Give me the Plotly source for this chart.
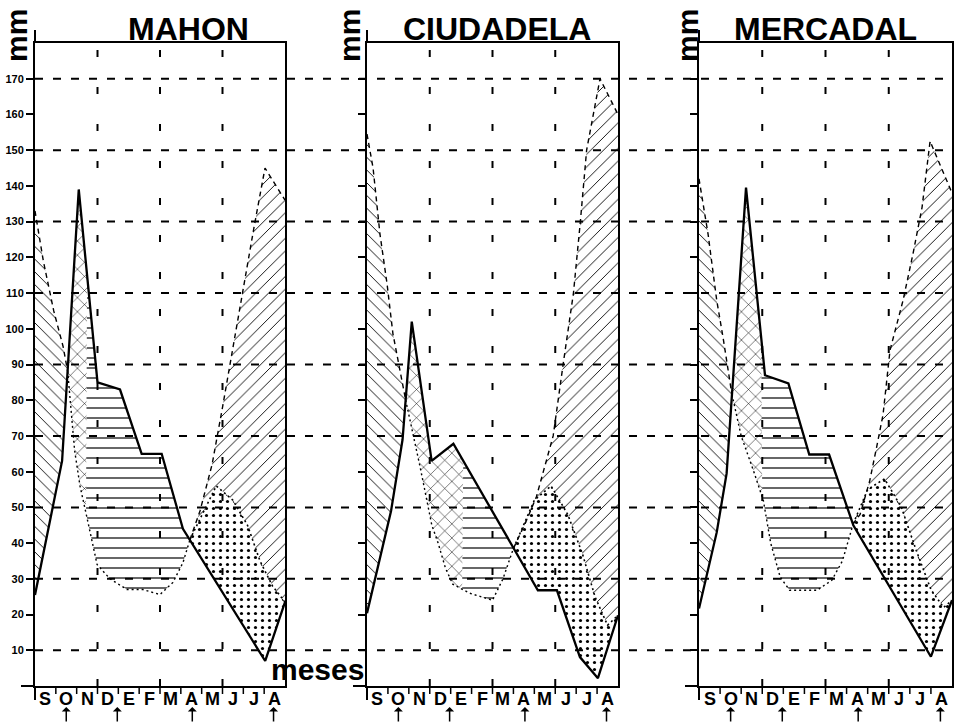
import numpy as np
import plotly.graph_objects as go

W, H = 956, 724

# ---------------- data ----------------
months = ["S", "O", "N", "D", "E", "F", "M", "A", "M", "J", "J", "A"]
month_pos = [i + 0.5 for i in range(12)]
yticks = list(range(10, 180, 10))
grid_h = [10, 30, 50, 70, 90, 110, 130, 150, 170]
grid_v = [3, 6, 9]
arrow_u = [1.5, 3.95, 7.55, 11.45]
titles = ["MAHON", "CIUDADELA", "MERCADAL"]

# MAHON
mahon_p_u = [0, 1.3, 2.1, 3.0, 4.08, 5.12, 6.08, 7.1, 11.05, 12]
mahon_p_v = [25.5, 63, 139, 85, 83, 65, 65, 44, 7, 23.5]
mahon_etp_u = [0, 0.4, 0.9, 1.35, 1.57, 1.9, 2.16, 2.5, 2.98, 3.6, 4.42, 5.18, 6.0, 6.62, 7.1,
               7.44, 7.92, 8.5, 9.0, 9.5, 10.0, 10.5, 11.04, 12]
mahon_etp_v = [133, 119, 105, 95, 88, 66, 56, 47, 34, 30, 27, 27, 25.6, 29, 34.5,
               41, 49, 62, 78, 95, 111, 128, 145, 136]
mahon_etr_u = [7.44, 8.2, 8.7, 9.5, 10.2, 10.8, 11.4, 12]
mahon_etr_v = [41, 50, 56, 52, 45, 35, 28, 23.5]
mahon_full = (2.5, 2.45)

# CIUDADELA
ciud_p_u = [0, 0.3, 1.15, 1.7, 2.14, 3.09, 4.13, 8.17, 9.08, 10.18, 11.04, 12]
ciud_p_v = [20.4, 27.7, 49, 69, 102, 63, 67.8, 26.8, 26.8, 8.1, 2.2, 19.8]
ciud_etp_u = [0, 0.29, 0.62, 0.96, 1.24, 1.85, 2.55, 2.85, 3.1, 3.4, 3.75, 4.1, 4.9, 6.0, 6.5,
              7.0, 7.6, 8.1, 8.9, 9.4, 9.87, 10.2, 10.5, 11.14, 12]
ciud_etp_v = [154.5, 145, 126.5, 112.5, 98.6, 80, 61, 52, 45, 40, 33, 28.5, 26, 24, 30,
              38.5, 46, 53, 70, 91, 110, 130, 150, 170, 160]
ciud_etr_u = [7.0, 8.0, 8.8, 9.6, 10.3, 10.9, 11.5, 12]
ciud_etr_v = [38.5, 52, 56, 48, 37, 25, 17, 19.8]
ciud_full = (4.6, 4.55)

# MERCADAL
merc_p_u = [0, 0.84, 1.31, 2.23, 3.13, 4.24, 5.23, 6.17, 7.32, 11.0, 12]
merc_p_v = [21.7, 43, 59.5, 139.5, 87, 84.7, 64.8, 64.8, 45, 8.2, 24]
merc_etp_u = [0, 0.43, 0.84, 1.14, 1.55, 2.0, 2.6, 3.05, 3.4, 3.85, 4.3, 5.6, 6.3, 6.8,
              7.32, 7.64, 8.1, 8.43, 8.73, 9.06, 9.68, 10.15, 10.58, 10.96, 12]
merc_etp_v = [142, 126.5, 108, 97.6, 82, 70, 60, 52, 40, 30.5, 26.8, 26.8, 29.6, 35,
              45.5, 48, 57.5, 67, 76, 94, 108, 121, 134, 152.5, 138]
merc_etr_u = [7.32, 8.0, 8.8, 9.6, 10.3, 11.0, 11.6, 12]
merc_etr_v = [45.5, 55, 58, 50, 38, 27, 22, 24]
merc_full = (2.95, 3.0)

stations = [
    (mahon_p_u, mahon_p_v, mahon_etp_u, mahon_etp_v, mahon_etr_u, mahon_etr_v, mahon_full),
    (ciud_p_u, ciud_p_v, ciud_etp_u, ciud_etp_v, ciud_etr_u, ciud_etr_v, ciud_full),
    (merc_p_u, merc_p_v, merc_etp_u, merc_etp_v, merc_etr_u, merc_etr_v, merc_full),
]

# ---------------- layout geometry (pixels) ----------------
panel_px = [(35, 285), (367, 618), (699, 952)]
y0_px, ytop_px = 686, 43
YMAX = 180


def px_x(p):
    return p / W


def px_y(p):
    return (H - p) / H


# ---------------- helpers ----------------
def crossings(pu, pv, eu, ev):
    grid = np.union1d(pu, eu)
    d = np.interp(grid, pu, pv) - np.interp(grid, eu, ev)
    roots = []
    for i in range(len(grid) - 1):
        if d[i] * d[i + 1] < 0:
            roots.append(grid[i] + (grid[i + 1] - grid[i]) * d[i] / (d[i] - d[i + 1]))
    return roots


def seg(us, vs, a, b):
    pts = [(a, float(np.interp(a, us, vs)))]
    pts += [(u, v) for u, v in zip(us, vs) if a < u < b]
    pts.append((b, float(np.interp(b, us, vs))))
    return pts


def poly(top, bottom):
    pts = top + bottom[::-1]
    pts.append(pts[0])
    return [p[0] for p in pts], [p[1] for p in pts]


fig = go.Figure()

FONT = "Liberation Sans"


def pat(shape, size, sol):
    return dict(shape=shape, fgcolor="black", bgcolor="rgba(0,0,0,0)",
                size=size, solidity=sol, fillmode="replace")


for i, (pu, pv, eu, ev, ru, rv, full) in enumerate(stations):
    xa = "x" if i == 0 else f"x{i+1}"
    ya = "y" if i == 0 else f"y{i+1}"
    cr = crossings(pu, pv, eu, ev)
    c1, c2 = cr[0], cr[-1]
    ft, fb = full
    regions = [
        (poly(seg(eu, ev, 0, c1), seg(pu, pv, 0, c1)), pat("\\", 9, 0.1)),
        (poly(seg(pu, pv, c1, ft), seg(eu, ev, c1, fb)), pat("x", 10, 0.1)),
        (poly(seg(pu, pv, ft, c2), seg(eu, ev, fb, c2)), pat("-", 10, 0.12)),
        (poly(seg(ru, rv, c2, 12), seg(pu, pv, c2, 12)), pat(".", 7, 0.16)),
        (poly(seg(eu, ev, c2, 12), seg(ru, rv, c2, 12)), pat("/", 9, 0.1)),
    ]
    for (xs, ys), fp in regions:
        fig.add_trace(go.Scatter(x=xs, y=ys, xaxis=xa, yaxis=ya, mode="lines",
                                 line=dict(width=0, color="rgba(0,0,0,0)"),
                                 fill="toself", fillcolor="rgba(0,0,0,0)",
                                 fillpattern=fp, hoverinfo="skip", showlegend=False))
    # ETP: dashed where above P, dotted in winter
    for a, b, dash in [(0, c1, "5px,4px"), (c1, c2, "2px,3px"), (c2, 12, "5px,4px")]:
        s = seg(eu, ev, a, b)
        fig.add_trace(go.Scatter(x=[p[0] for p in s], y=[p[1] for p in s], xaxis=xa, yaxis=ya,
                                 mode="lines", line=dict(color="black", width=1.4, dash=dash),
                                 hoverinfo="skip", showlegend=False))
    s = seg(ru, rv, c2, 12)
    fig.add_trace(go.Scatter(x=[p[0] for p in s], y=[p[1] for p in s], xaxis=xa, yaxis=ya,
                             mode="lines", line=dict(color="black", width=1.6, dash="2px,3px"),
                             hoverinfo="skip", showlegend=False))
    fig.add_trace(go.Scatter(x=pu, y=pv, xaxis=xa, yaxis=ya, mode="lines",
                             line=dict(color="black", width=2.3),
                             hoverinfo="skip", showlegend=False))

# ---------------- axes ----------------
layout = dict(width=W, height=H, margin=dict(l=0, r=0, t=0, b=0),
              paper_bgcolor="white", plot_bgcolor="rgba(0,0,0,0)", showlegend=False)
for i, (xl, xr) in enumerate(panel_px):
    kx = "xaxis" if i == 0 else f"xaxis{i+1}"
    ky = "yaxis" if i == 0 else f"yaxis{i+1}"
    ya = "y" if i == 0 else f"y{i+1}"
    xa = "x" if i == 0 else f"x{i+1}"
    layout[kx] = dict(domain=[px_x(xl), px_x(xr)], range=[0, 12], anchor=ya,
                      showline=True, linecolor="black", linewidth=2, mirror=True,
                      showgrid=False, zeroline=False, fixedrange=True,
                      showticklabels=False, ticks="")
    layout[ky] = dict(domain=[px_y(y0_px), px_y(ytop_px)], range=[0, YMAX], anchor=xa,
                      showline=True, linecolor="black", linewidth=2, mirror=True,
                      showgrid=False, zeroline=False, fixedrange=True,
                      tickmode="array", tickvals=yticks, ticks="outside", ticklen=7,
                      tickwidth=2, tickcolor="black", showticklabels=(i == 0),
                      tickfont=dict(family=FONT, size=11, color="black", weight="bold"))
fig.update_layout(**layout)

# ---------------- shapes ----------------
shapes = []
for g in grid_h:
    shapes.append(dict(type="line", xref="paper", yref="y", x0=px_x(35), x1=px_x(950), y0=g, y1=g,
                       line=dict(color="black", width=2, dash="8px,10px"), layer="below"))
for i, (xl, xr) in enumerate(panel_px):
    xa = "x" if i == 0 else f"x{i+1}"
    ya = "y" if i == 0 else f"y{i+1}"
    for gv in grid_v:
        shapes.append(dict(type="line", xref=xa, yref=ya, x0=gv, x1=gv, y0=0, y1=YMAX,
                           line=dict(color="black", width=2, dash="7px,30px"), layer="below"))
    # axis overhangs
    shapes.append(dict(type="line", xref="paper", yref="paper", x0=px_x(xl), x1=px_x(xl),
                       y0=px_y(ytop_px), y1=px_y(30), line=dict(color="black", width=2)))
    shapes.append(dict(type="line", xref="paper", yref="paper", x0=px_x(xl), x1=px_x(xl),
                       y0=px_y(y0_px), y1=px_y(700), line=dict(color="black", width=2)))
    shapes.append(dict(type="line", xref="paper", yref="paper", x0=px_x(xl - 14), x1=px_x(xl),
                       y0=px_y(y0_px), y1=px_y(y0_px), line=dict(color="black", width=2)))
    # month separators (apostrophes)
    for m in range(1, 12):
        shapes.append(dict(type="line", xref=xa, yref="paper", x0=m, x1=m,
                           y0=px_y(688), y1=px_y(694), line=dict(color="black", width=1.5)))
fig.update_layout(shapes=shapes)

# ---------------- annotations ----------------
ann = []
title_cx = [188, 497, 825]
mm_cx = [17, 350, 688]
for i in range(3):
    xa = "x" if i == 0 else f"x{i+1}"
    ann.append(dict(text=titles[i], xref="paper", yref="paper", x=px_x(title_cx[i]),
                    y=px_y(49), xanchor="center", yanchor="bottom", showarrow=False,
                    font=dict(family=FONT, size=32, color="black", weight="bold")))
    ann.append(dict(text="mm", xref="paper", yref="paper", x=px_x(mm_cx[i]), y=px_y(36),
                    xanchor="center", yanchor="middle", textangle=-90, showarrow=False,
                    font=dict(family=FONT, size=30, color="black", weight="bold")))
    for mp, mt in zip(month_pos, months):
        ann.append(dict(text=mt, xref=xa, yref="paper", x=mp, y=px_y(688),
                        xanchor="center", yanchor="top", showarrow=False, borderpad=0,
                        font=dict(family=FONT, size=18, color="black", weight="bold")))
    for a in arrow_u:
        ann.append(dict(text="", xref=xa, yref="paper", x=a, y=px_y(707), ax=0, ay=16,
                        showarrow=True, arrowhead=1, arrowsize=1, arrowwidth=1.5,
                        arrowcolor="black"))
ann.append(dict(text="meses", xref="paper", yref="paper", x=px_x(317), y=px_y(687),
                xanchor="center", yanchor="bottom", showarrow=False, borderpad=0,
                font=dict(family=FONT, size=30, color="black", weight="bold")))
fig.update_layout(annotations=ann)

fig.write_html("out.html", post_script="document.body.style.margin='0px';",
               config={"displayModeBar": False})
